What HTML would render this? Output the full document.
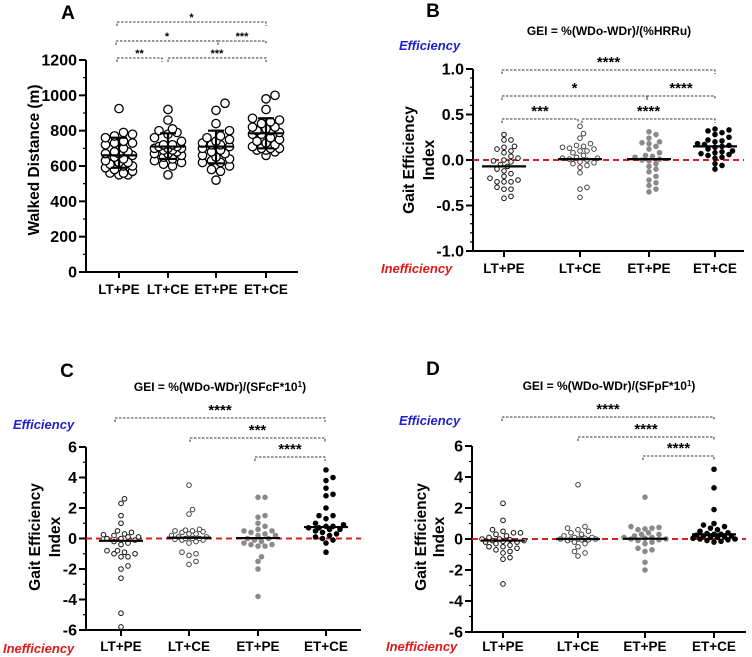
<!DOCTYPE html>
<html><head><meta charset="utf-8"><style>
body{margin:0;background:#fff}
svg{display:block;font-family:"Liberation Sans",Arial,sans-serif}
</style></head><body>
<svg id="fig" width="752" height="657" viewBox="0 0 752 657"></svg>
<script>
const categories=["LT+PE","LT+CE","ET+PE","ET+CE"];
const distLTPE=[925,790,780,770,760,740,730,730,720,700,680,680,670,670,660,650,640,630,620,610,600,600,590,580,570,560,560,550,550,620];
const distLTCE=[920,860,810,800,790,780,760,740,720,720,710,710,700,700,700,690,690,680,670,670,660,650,640,630,620,610,600,550];
const distETPE=[955,915,840,800,770,760,750,740,730,720,720,710,700,690,680,670,660,650,640,630,620,620,600,580,570,520];
const distETCE=[1000,980,920,870,860,850,840,820,820,810,800,800,790,780,780,760,750,740,730,720,710,700,700,700,690,690,680,660];
const distMean=[660,710,710,785];
const distSdLow=[590,640,615,700];
const distSdHigh=[760,785,800,870];
const hrLTPE=[.28,.22,.22,.15,.14,.12,.10,.08,.04,.02,0,-.01,-.02,-.05,-.07,-.10,-.12,-.15,-.18,-.20,-.22,-.24,-.24,-.24,-.30,-.32,-.32,-.40,-.42];
const hrLTCE=[.37,.29,.24,.18,.16,.15,.14,.13,.12,.10,.10,.08,.05,.03,.02,.02,.01,0,-.02,-.03,-.04,-.06,-.08,-.14,-.30,-.32,-.41];
const hrETPE=[.31,.28,.24,.20,.19,.18,.15,.12,.08,.05,.04,.03,.01,0,-.01,-.04,-.07,-.10,-.13,-.18,-.22,-.25,-.28,-.32,-.35];
const hrETCE=[.34,.33,.32,.30,.28,.25,.22,.21,.20,.18,.17,.16,.15,.14,.12,.10,.09,.08,.07,.06,.05,.03,.02,-.04,-.06,-.10];
const hrMedian=[-0.07,0.01,0.01,0.15];
const cfLTPE=[2.6,2.3,1.5,1.0,0.5,0.4,0.3,0.25,0.2,0.1,0.1,0,0,-0.1,-0.2,-0.3,-0.4,-0.8,-0.8,-0.9,-1.0,-1.0,-1.2,-1.2,-1.8,-2.0,-2.6,-4.9,-5.8];
const cfLTCE=[3.5,1.9,1.6,0.6,0.55,0.5,0.5,0.45,0.4,0.3,0.3,0.2,0.1,0.1,0,0,0,-0.05,-0.1,-0.1,-0.2,-0.3,-0.9,-1.0,-1.1,-1.5,-1.7];
const cfETPE=[2.7,2.7,1.5,1.4,1.0,0.8,0.6,0.5,0.5,0.4,0.3,0.2,0.2,0,0,-0.1,-0.2,-0.3,-0.4,-0.4,-0.5,-0.5,-1.2,-1.5,-2.0,-3.8];
const cfETCE=[4.5,4.0,3.8,3.3,2.9,2.8,2.0,1.5,1.5,1.3,1.0,0.9,0.8,0.8,0.7,0.7,0.6,0.6,0.5,0.4,0.3,0.2,0.1,0,-0.1,-0.3,-0.9];
const cfMedian=[-0.15,0.05,0.03,0.75];
const pfLTPE=[2.3,1.2,0.6,0.5,0.4,0.4,0.3,0.2,0.1,0,0,-0.05,-0.1,-0.1,-0.15,-0.2,-0.2,-0.3,-0.4,-0.5,-0.5,-0.6,-0.7,-0.8,-0.9,-1.2,-1.3,-2.9];
const pfLTCE=[3.5,0.8,0.7,0.6,0.5,0.4,0.3,0.2,0.1,0.1,0.05,0,0,0,0,-0.05,-0.05,-0.1,-0.2,-0.3,-0.5,-0.8,-0.9,-1.1];
const pfETPE=[2.7,0.8,0.75,0.7,0.65,0.6,0.4,0.3,0.3,0.2,0.1,0.1,0.05,0,0,-0.05,-0.1,-0.2,-0.3,-0.6,-0.7,-0.8,-1.5,-2.0];
const pfETCE=[4.5,3.3,1.9,1.0,0.9,0.8,0.7,0.6,0.5,0.4,0.35,0.3,0.3,0.25,0.2,0.2,0.15,0.1,0.1,0.05,0,0,-0.05,-0.1,-0.15,-0.2];
const pfMedian=[-0.1,0,0.02,0.3];
const ticksA=[0,200,400,600,800,1000,1200];
const ticksB=[-1.0,-0.5,0.0,0.5,1.0];
const ticksCD=[-6,-4,-2,0,2,4,6];

const NS="http://www.w3.org/2000/svg";
const svg=document.getElementById('fig');
function el(tag,attrs,parent,text){const e=document.createElementNS(NS,tag);for(const k in attrs)e.setAttribute(k,attrs[k]);if(text!==undefined)e.textContent=text;(parent||svg).appendChild(e);return e;}

function panel(c){
  const g=el('g',{});
  
  
  const y=v=>c.y0+(v-c.min)/(c.max-c.min)*(c.y1-c.y0);
  const x=i=>c.cx[i];
  const ya=el('line',{x1:c.ax,y1:c.y0,x2:c.ax,y2:c.y1,stroke:'#000','stroke-width':2},g);
  
  const xa=el('line',{x1:c.ax-1,y1:c.y0,x2:c.axR,y2:c.y0,stroke:'#000','stroke-width':2},g);
  
  for(let v=c.min;v<=c.max+1e-9;v+=c.minor){el('line',{x1:c.ax-3,y1:y(v),x2:c.ax,y2:y(v),stroke:'#000','stroke-width':1.2},g);}
  c.ticks.forEach(v=>{
    el('line',{x1:c.ax-7,y1:y(v),x2:c.ax,y2:y(v),stroke:'#000','stroke-width':2},g);
    const t=el('text',{x:c.ax-9,y:y(v)+5.5,'text-anchor':'end','font-size':16,'font-weight':'bold'},g,c.fmt(v));
    
  });
  categories.forEach((cat,i)=>{
    el('line',{x1:x(i),y1:c.y0,x2:x(i),y2:c.y0+6,stroke:'#000','stroke-width':2},g);
    const t=el('text',{x:x(i),y:c.xlY,'text-anchor':'middle','font-size':13.5,'font-weight':'bold'},g,cat);
    
  });
  c.ytitle.forEach((s,k)=>{
    const t=el('text',{x:0,y:0,'text-anchor':'middle','font-size':15.5,'font-weight':'bold',transform:`translate(${c.ytx[k]},${c.yty}) rotate(-90)`},g,s);
    
  });
  if(c.zero){const z=el('line',{x1:c.ax,y1:y(0),x2:c.axR,y2:y(0),stroke:'#d62020','stroke-width':2,'stroke-dasharray':'6,4'},g);
    }
  c.groups.forEach((vals,i)=>{
    const placed=[];const r=c.r;const d=2*r+0.5;
    const cands=[0];for(let k=1;k*c.step<=c.W;k++){cands.push(k*c.step,-k*c.step);}
    vals.slice().sort((a,b)=>a-b).forEach(v=>{
      const py=y(v);let best=0,bestD=-1;
      for(const cand of cands){
        let md=Infinity;placed.forEach(p=>{md=Math.min(md,Math.hypot(p[0]-cand,p[1]-py));});
        if(md>=d){best=cand;bestD=Infinity;break;}
        if(md>bestD){bestD=md;best=cand;}
      }
      placed.push([best,py]);
      const s=c.style[i];
      const p=el('circle',{cx:x(i)+best,cy:py,r:r,fill:s.fill,stroke:s.stroke,'stroke-width':c.sw},g);
      
      
    });
  });
  c.center.forEach((v,i)=>{
    const m=el('line',{x1:x(i)-c.cw,y1:y(v),x2:x(i)+c.cw,y2:y(v),stroke:'#000','stroke-width':2.2},g);
    
  });
  if(c.sdLow){c.sdLow.forEach((lo,i)=>{const hi=c.sdHigh[i];
    el('line',{x1:x(i),y1:y(lo),x2:x(i),y2:y(hi),stroke:'#000','stroke-width':2.2},g);
    [lo,hi].forEach(v=>el('line',{x1:x(i)-8,y1:y(v),x2:x(i)+8,y2:y(v),stroke:'#000','stroke-width':2.2},g));});}
  c.br.forEach(b=>{
    const bg=el('g',{},g);
    
    el('path',{d:`M${b[0]},${b[2]+4}V${b[2]}H${b[1]}V${b[2]+4}`,fill:'none',stroke:'#333','stroke-width':1,'stroke-dasharray':'2.5,1.5'},bg);
    el('text',{x:(b[0]+b[1])/2,y:b[2]+c.starDy,'text-anchor':'middle','font-size':c.starSize,'font-weight':'bold'},bg,b[3]);
  });
  const L=el('text',{x:c.letter[0],y:c.letter[1],'text-anchor':'middle','font-size':19,'font-weight':'bold'},g,c.letter[2]);
  
  if(c.title){const T=el('text',{x:c.title[0],y:c.title[1],'text-anchor':'middle','font-size':12,'font-weight':'bold'},g);
    
    T.textContent=c.title[2];
    if(c.title[3]){el('tspan',{dy:-4,'font-size':8},T,'1');el('tspan',{dy:4},T,')');}}
  if(c.eff){
    const e=el('text',{x:c.eff[0],y:c.eff[1],'font-size':13,'font-weight':'bold','font-style':'italic',fill:'#2020d0'},g,'Efficiency');
    
    const n=el('text',{x:c.ineff[0],y:c.ineff[1],'font-size':13,'font-weight':'bold','font-style':'italic',fill:'#e01818'},g,'Inefficiency');
    
  }
}
const openS={fill:'#fff',stroke:'#000'};
const smallStyle=[{fill:'#fff',stroke:'#111'},{fill:'#fff',stroke:'#444'},{fill:'#8a8a8a',stroke:'#8a8a8a'},{fill:'#000',stroke:'#000'}];
panel({name:'panel-a',min:0,max:1200,y0:272,y1:60,ax:86,axR:298,cx:[119,168,216,266],ticks:ticksA,minor:100,fmt:v=>String(v),
  xlY:294,ytitle:['Walked Distance (m)'],ytx:[39],yty:160,zero:false,groups:[distLTPE,distLTCE,distETPE,distETCE],
  r:4.2,sw:1.3,style:[openS,openS,openS,openS],W:16,step:4.5,center:distMean,cw:17,sdLow:distSdLow,sdHigh:distSdHigh,
  br:[[117,162,58,'**'],[168,266,58,'***'],[116,218,41,'*'],[218,266,41,'***'],[117,266,22,'*']],starDy:-1,starSize:11,
  letter:[68,19,'A']});
panel({name:'panel-b',min:-1,max:1,y0:251,y1:69,ax:473,axR:744,cx:[504,580,649,715],ticks:ticksB,minor:0.1,fmt:v=>v.toFixed(1),
  xlY:273,ytitle:['Gait Efficiency','Index'],ytx:[414,434],yty:160,zero:true,groups:[hrLTPE,hrLTCE,hrETPE,hrETCE],
  r:2.3,sw:1,style:smallStyle,W:20,step:3.5,center:hrMedian,cw:22,
  br:[[502,715,70,'****'],[502,647,96,'*'],[647,715,96,'****'],[502,578,119,'***'],[582,715,119,'****']],starDy:-3,starSize:15,
  letter:[433,17,'B'],title:[609,35,'GEI = %(WDo-WDr)/(%HRRu)'],eff:[399,50],ineff:[381,273]});
panel({name:'panel-c',min:-6,max:6,y0:630,y1:447,ax:86,axR:361,cx:[121,189,258,326],ticks:ticksCD,minor:1,fmt:v=>String(v),
  xlY:651,ytitle:['Gait Efficiency','Index'],ytx:[40,60],yty:537,zero:true,groups:[cfLTPE,cfLTCE,cfETPE,cfETCE],
  r:2.3,sw:1,style:smallStyle,W:20,step:3.5,center:cfMedian,cw:22,
  br:[[115,325,418,'****'],[190,325,438,'***'],[255,325,457,'****']],starDy:-3,starSize:15,
  letter:[67,377,'C'],title:[220,391,'GEI = %(WDo-WDr)/(SFcF*10',true],eff:[13,429],ineff:[3,653]});
panel({name:'panel-d',min:-6,max:6,y0:632,y1:446,ax:472,axR:746,cx:[503,578,645,714],ticks:ticksCD,minor:1,fmt:v=>String(v),
  xlY:651,ytitle:['Gait Efficiency','Index'],ytx:[426,444],yty:537,zero:true,groups:[pfLTPE,pfLTCE,pfETPE,pfETCE],
  r:2.3,sw:1,style:smallStyle,W:22,step:3.5,center:pfMedian,cw:22,
  br:[[502,714,417,'****'],[578,714,437,'****'],[643,714,456,'****']],starDy:-3,starSize:15,
  letter:[433,375,'D'],title:[609,390,'GEI = %(WDo-WDr)/(SFpF*10',true],eff:[399,425],ineff:[386,651]});
</script>
</body></html>
